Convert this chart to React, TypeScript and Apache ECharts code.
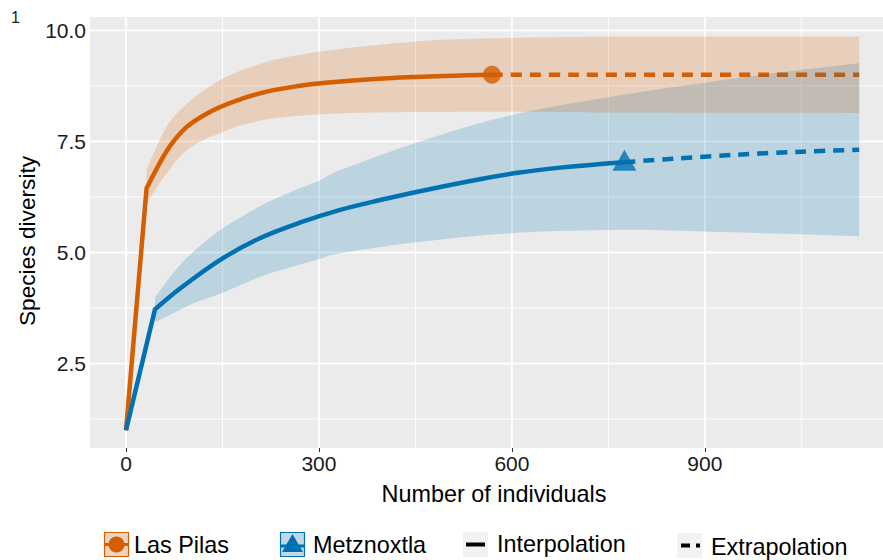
import React, { useEffect, useRef } from "react";
import * as echarts from "echarts";

// ---- data ----
const lasPilasIntX = [0, 32, 64, 94, 131, 172, 219, 265, 310, 380, 450, 510, 569];
const lasPilasIntY = [1, 6.45, 7.3, 7.82, 8.17, 8.42, 8.62, 8.74, 8.82, 8.9, 8.95, 8.98, 9.0];
const lasPilasExtX = [569, 700, 850, 1000, 1140];
const lasPilasExtY = [9.0, 9.0, 9.0, 9.0, 9.0];
const lasPilasBandX = [32, 64, 99, 151, 203, 255, 333, 452, 569, 783, 1140];
const lasPilasBandLo = [6.1, 6.8, 7.35, 7.72, 7.95, 8.06, 8.13, 8.16, 8.17, 8.15, 8.14];
const lasPilasBandHi = [6.86, 7.85, 8.4, 8.92, 9.22, 9.41, 9.58, 9.75, 9.82, 9.86, 9.86];

const metzIntX = [0, 45, 84, 146, 208, 270, 333, 395, 457, 550, 612, 675, 737, 775];
const metzIntY = [1, 3.72, 4.19, 4.83, 5.32, 5.67, 5.96, 6.18, 6.38, 6.65, 6.8, 6.91, 6.99, 7.03];
const metzExtX = [775, 850, 950, 1050, 1140];
const metzExtY = [7.03, 7.11, 7.2, 7.27, 7.31];
const metzBandX = [45, 74, 105, 151, 203, 240, 302, 333, 457, 602, 783, 900, 1022, 1140];
const metzBandLo = [3.43, 3.64, 3.86, 4.1, 4.42, 4.6, 4.86, 4.98, 5.24, 5.44, 5.51, 5.47, 5.42, 5.36];
const metzBandHi = [3.98, 4.55, 5.02, 5.55, 6.0, 6.26, 6.63, 6.85, 7.5, 8.1, 8.57, 8.82, 9.06, 9.26];

const xTicks = [0, 300, 600, 900];
const xMinor = [150, 450, 750, 1050];
const yTicks = [2.5, 5.0, 7.5, 10.0];
const yMinor = [1.25, 3.75, 6.25, 8.75];

const ORANGE = "#D55E00";
const BLUE = "#0072B2";
const FONT = "Liberation Sans, Arial, Helvetica, sans-serif";

// Catmull-Rom spline through points, as cubic bezier path commands (no initial M)
function splineCmds(p: number[][]): string {
  let d = "";
  for (let i = 0; i < p.length - 1; i++) {
    const p0 = p[i - 1] || p[i];
    const p1 = p[i];
    const p2 = p[i + 1];
    const p3 = p[i + 2] || p[i + 1];
    const c1x = p1[0] + (p2[0] - p0[0]) / 6;
    const c1y = p1[1] + (p2[1] - p0[1]) / 6;
    const c2x = p2[0] - (p3[0] - p1[0]) / 6;
    const c2y = p2[1] - (p3[1] - p1[1]) / 6;
    d += ` C ${c1x} ${c1y} ${c2x} ${c2y} ${p2[0]} ${p2[1]}`;
  }
  return d;
}

function ribbonSeries(xs: number[], lo: number[], hi: number[], color: string) {
  return {
    type: "custom",
    silent: true,
    z: 5,
    clip: true,
    data: xs.map((x, i) => [x, lo[i], hi[i]]),
    encode: { x: 0, y: [1, 2] },
    renderItem: (params: any, api: any) => {
      if (params.dataIndex !== 0) return null;
      const up: number[][] = xs.map((x, i) => api.coord([x, hi[i]]));
      const dn: number[][] = xs.map((x, i) => api.coord([x, lo[i]])).reverse();
      const d =
        `M ${up[0][0]} ${up[0][1]}` +
        splineCmds(up) +
        ` L ${dn[0][0]} ${dn[0][1]}` +
        splineCmds(dn) +
        " Z";
      return {
        type: "path",
        shape: { pathData: d },
        style: { fill: color, opacity: 0.2 },
      };
    },
  };
}

// curve: straight segment from the first point to the second, then a spline through the rest
function curveSeries(xs: number[], ys: number[], color: string, dashed: boolean, kink: boolean) {
  return {
    type: "custom",
    silent: true,
    z: 3,
    clip: true,
    data: xs.map((x, i) => [x, ys[i]]),
    encode: { x: 0, y: 1 },
    renderItem: (params: any, api: any) => {
      if (params.dataIndex !== 0) return null;
      const pts: number[][] = xs.map((x, i) => api.coord([x, ys[i]]));
      let d = `M ${pts[0][0]} ${pts[0][1]}`;
      if (kink) {
        d += ` L ${pts[1][0]} ${pts[1][1]}` + splineCmds(pts.slice(1));
      } else {
        d += splineCmds(pts);
      }
      return {
        type: "path",
        shape: { pathData: d },
        style: {
          fill: "none",
          stroke: color,
          lineWidth: 4.5,
          lineJoin: "round",
          lineDash: dashed ? [11, 8] : null,
        },
      };
    },
  };
}

export default function App() {
  const ref = useRef<HTMLDivElement>(null);
  useEffect(() => {
    if (!ref.current) return;
    const chart = echarts.init(ref.current, null, { renderer: "svg" });
    const vData = [...xTicks.map((v) => [v, 5, 1]), ...xMinor.map((v) => [v, 5, 0])];
    const hData = [...yTicks.map((v) => [500, v, 1]), ...yMinor.map((v) => [500, v, 0])];
    const option: any = {
      animation: false,
      grid: {
        left: 90,
        top: 17,
        width: 793,
        height: 431,
        show: true,
        backgroundColor: "#EBEBEB",
        borderWidth: 0,
      },
      xAxis: {
        type: "value",
        min: -56,
        max: 1177,
        axisLine: { show: false },
        axisTick: { show: true, customValues: xTicks, length: 4, lineStyle: { color: "#333", width: 1 } },
        axisLabel: { customValues: xTicks, color: "#1a1a1a", fontSize: 21, fontFamily: FONT, margin: 5 },
        splitLine: { show: false },
      },
      yAxis: {
        type: "value",
        min: 0.6,
        max: 10.3,
        axisLine: { show: false },
        axisTick: { show: true, customValues: yTicks, length: 4, lineStyle: { color: "#333", width: 1 } },
        axisLabel: {
          customValues: yTicks,
          color: "#1a1a1a",
          fontSize: 21,
          fontFamily: FONT,
          margin: 4,
          formatter: (v: number) => v.toFixed(1),
        },
        splitLine: { show: false },
      },
      series: [
        {
          type: "custom",
          silent: true,
          z: 1,
          data: vData,
          renderItem: (params: any, api: any) => {
            const p = api.coord([api.value(0), 5]);
            const cs = params.coordSys;
            return {
              type: "line",
              shape: { x1: p[0], y1: cs.y, x2: p[0], y2: cs.y + cs.height },
              style: { stroke: "#FFFFFF", lineWidth: api.value(2) ? 1.8 : 0.9 },
            };
          },
        },
        {
          type: "custom",
          silent: true,
          z: 1,
          data: hData,
          renderItem: (params: any, api: any) => {
            const p = api.coord([500, api.value(1)]);
            const cs = params.coordSys;
            return {
              type: "line",
              shape: { x1: cs.x, y1: p[1], x2: cs.x + cs.width, y2: p[1] },
              style: { stroke: "#FFFFFF", lineWidth: api.value(2) ? 1.8 : 0.9 },
            };
          },
        },
        curveSeries(lasPilasIntX, lasPilasIntY, ORANGE, false, true),
        curveSeries(lasPilasExtX, lasPilasExtY, ORANGE, true, false),
        curveSeries(metzIntX, metzIntY, BLUE, false, true),
        curveSeries(metzExtX, metzExtY, BLUE, true, false),
        {
          type: "scatter",
          z: 4,
          symbol: "circle",
          symbolSize: 18,
          itemStyle: { color: ORANGE },
          data: [[lasPilasIntX[lasPilasIntX.length - 1], lasPilasIntY[lasPilasIntY.length - 1]]],
        },
        {
          type: "scatter",
          z: 4,
          symbol: "triangle",
          symbolSize: [24, 21],
          symbolOffset: [0, -2],
          itemStyle: { color: BLUE },
          data: [[metzIntX[metzIntX.length - 1], metzIntY[metzIntY.length - 1]]],
        },
        ribbonSeries(metzBandX, metzBandLo, metzBandHi, BLUE),
        ribbonSeries(lasPilasBandX, lasPilasBandLo, lasPilasBandHi, ORANGE),
      ],
      graphic: [
        { type: "text", left: 11, top: 9, style: { text: "1", fontSize: 16, fontFamily: FONT, fill: "#1a1a1a" } },
        {
          type: "text",
          x: 27,
          y: 241,
          rotation: Math.PI / 2,
          style: {
            text: "Species diversity",
            fontSize: 22.7,
            fontFamily: FONT,
            fill: "#000",
            align: "center",
            verticalAlign: "middle",
          },
        },
        {
          type: "text",
          x: 494,
          y: 494,
          style: {
            text: "Number of individuals",
            fontSize: 23.4,
            fontFamily: FONT,
            fill: "#000",
            align: "center",
            verticalAlign: "middle",
          },
        },
        // legend: Las Pilas
        { type: "rect", shape: { x: 104.5, y: 532.5, width: 24, height: 24 }, style: { fill: "#ECD4C2", stroke: ORANGE, lineWidth: 1.2 } },
        { type: "line", shape: { x1: 105, y1: 544.5, x2: 128, y2: 544.5 }, style: { stroke: ORANGE, lineWidth: 3 } },
        { type: "circle", shape: { cx: 116.5, cy: 544.5, r: 8 }, style: { fill: ORANGE } },
        { type: "text", x: 134, y: 545, style: { text: "Las Pilas", fontSize: 23.4, fontFamily: FONT, fill: "#000", verticalAlign: "middle" } },
        // legend: Metznoxtla
        { type: "rect", shape: { x: 280.5, y: 532.5, width: 24, height: 24 }, style: { fill: "#C2D8E5", stroke: BLUE, lineWidth: 1.2 } },
        { type: "line", shape: { x1: 281, y1: 546, x2: 304, y2: 546 }, style: { stroke: BLUE, lineWidth: 3 } },
        { type: "polygon", shape: { points: [[292.5, 534], [303, 552], [282, 552]] }, style: { fill: BLUE } },
        { type: "text", x: 313, y: 545, style: { text: "Metznoxtla", fontSize: 23.4, fontFamily: FONT, fill: "#000", verticalAlign: "middle" } },
        // legend: Interpolation
        { type: "rect", shape: { x: 463, y: 532, width: 25, height: 25 }, style: { fill: "#F2F2F2" } },
        { type: "line", shape: { x1: 466, y1: 544.5, x2: 485, y2: 544.5 }, style: { stroke: "#000", lineWidth: 4 } },
        { type: "text", x: 497, y: 544, style: { text: "Interpolation", fontSize: 23.4, fontFamily: FONT, fill: "#000", verticalAlign: "middle" } },
        // legend: Extrapolation
        { type: "rect", shape: { x: 677, y: 533, width: 25, height: 25 }, style: { fill: "#F2F2F2" } },
        { type: "line", shape: { x1: 681, y1: 545.5, x2: 700, y2: 545.5 }, style: { stroke: "#000", lineWidth: 4, lineDash: [9, 6] } },
        { type: "text", x: 711, y: 547, style: { text: "Extrapolation", fontSize: 23.4, fontFamily: FONT, fill: "#000", verticalAlign: "middle" } },
      ],
    };
    chart.setOption(option);
    return () => chart.dispose();
  }, []);
  return (
    <div
      ref={ref}
      style={{ position: "fixed", left: 0, top: 0, width: 883, height: 560, background: "#fff" }}
    />
  );
}
